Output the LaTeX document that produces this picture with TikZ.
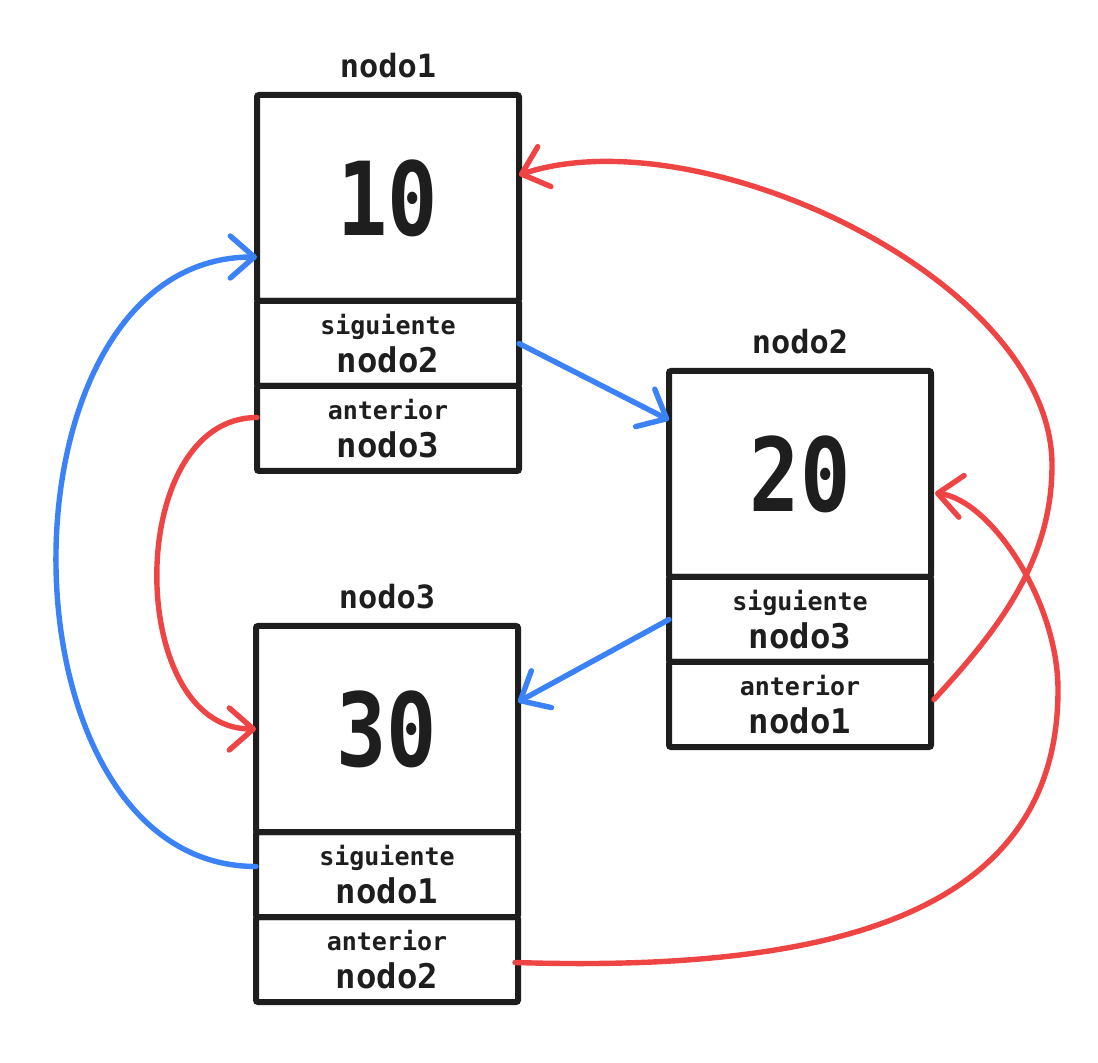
\documentclass[tikz,border=0pt]{standalone}
\usepackage{fontspec}
\usepackage{graphicx}
\usepackage{tikz}
\usetikzlibrary{arrows.meta}
\usetikzlibrary{positioning}
\usetikzlibrary{calc}
\newfontfamily\mono{DejaVu Sans Mono}
\definecolor{azul}{RGB}{59,130,246}
\definecolor{rojo}{RGB}{239,68,68}
\definecolor{tinta}{RGB}{30,30,30}
\newcommand{\grande}[1]{{\fontsize{17}{19}\selectfont #1}}
\newcommand{\cifra}[1]{\raisebox{-2.5pt}{\scalebox{0.82}[1]{#1}}}
\tikzset{valor/.style = {draw = tinta, line width = 3pt, rounded corners = 1pt,
                         inner sep = 0pt, outer sep = 0pt,
                         minimum width = 131pt, minimum height = 103pt, text = tinta,
                         font = \mono\bfseries\fontsize{51}{51}\selectfont},
         campo/.style = {valor, minimum height = 42.5pt, align = center,
                         font = \mono\bfseries\fontsize{12.5}{19}\selectfont},
         titulo/.style = {inner sep = 0pt, text = tinta,
                          font = \mono\bfseries\fontsize{16}{16}\selectfont},
         flecha/.style = {line width = 2.7pt, line cap = round,
                          -{Straight Barb[length = 12pt, width = 21pt, round]}},
         ptrsig/.style = {flecha, draw = azul},
         ptrant/.style = {flecha, draw = rojo}}

\begin{document}
\begin{tikzpicture}[x = 0.5pt, y = -0.5pt]
      \useasboundingbox (0, 0) rectangle (1098, 1063);

      \node [valor] (n1val) at (388, 198) {\cifra{10}};
      \node [campo, below = 0pt of n1val] (n1sig) {siguiente\\\grande{nodo2}};
      \node [campo, below = 0pt of n1sig] (n1ant) {anterior\\\grande{nodo3}};
      \node [titulo, above = 8.5pt of n1val] (n1tit) {nodo1};

      \node [valor] (n2val) at (800, 474) {\cifra{20}};
      \node [campo, below = 0pt of n2val] (n2sig) {siguiente\\\grande{nodo3}};
      \node [campo, below = 0pt of n2sig] (n2ant) {anterior\\\grande{nodo1}};
      \node [titulo, above = 8.5pt of n2val] (n2tit) {nodo2};

      \node [valor] (n3val) at (387, 729) {\cifra{30}};
      \node [campo, below = 0pt of n3val] (n3sig) {siguiente\\\grande{nodo1}};
      \node [campo, below = 0pt of n3sig] (n3ant) {anterior\\\grande{nodo2}};
      \node [titulo, above = 8.5pt of n3val] (n3tit) {nodo3};

      \draw [ptrsig] (n1sig.east) -- ($(n2val.west) + (0, -54)$);
      \draw [ptrsig] (n2sig.west) -- ($(n3val.east) + (0, -27)$);
      \draw [ptrsig] ($(n3sig.west) + (0, -8)$) .. controls +(-265, 0) and +(-268, 0) .. ($(n1val.west) + (0, 59)$);

      \draw [ptrant] ($(n1ant.west) + (0, -11)$) .. controls +(-133, 0) and +(-131, 0) .. (n3val.west);
      \draw [ptrant] ($(n2ant.east) + (3, -5)$) .. controls (1000, 628) and (1052, 560) .. (1052, 465)
                     .. controls (1052, 280) and (700, 115) .. ($(n1val.east) + (0, -23)$);
      \draw [ptrant] ($(n3ant.east) + (-3, 3)$) .. controls (820, 972) and (1058, 920) .. (1058, 690)
                     .. controls (1058, 600) and (990, 500) .. ($(n2val.east) + (4, 19)$);
\end{tikzpicture}
\end{document}
